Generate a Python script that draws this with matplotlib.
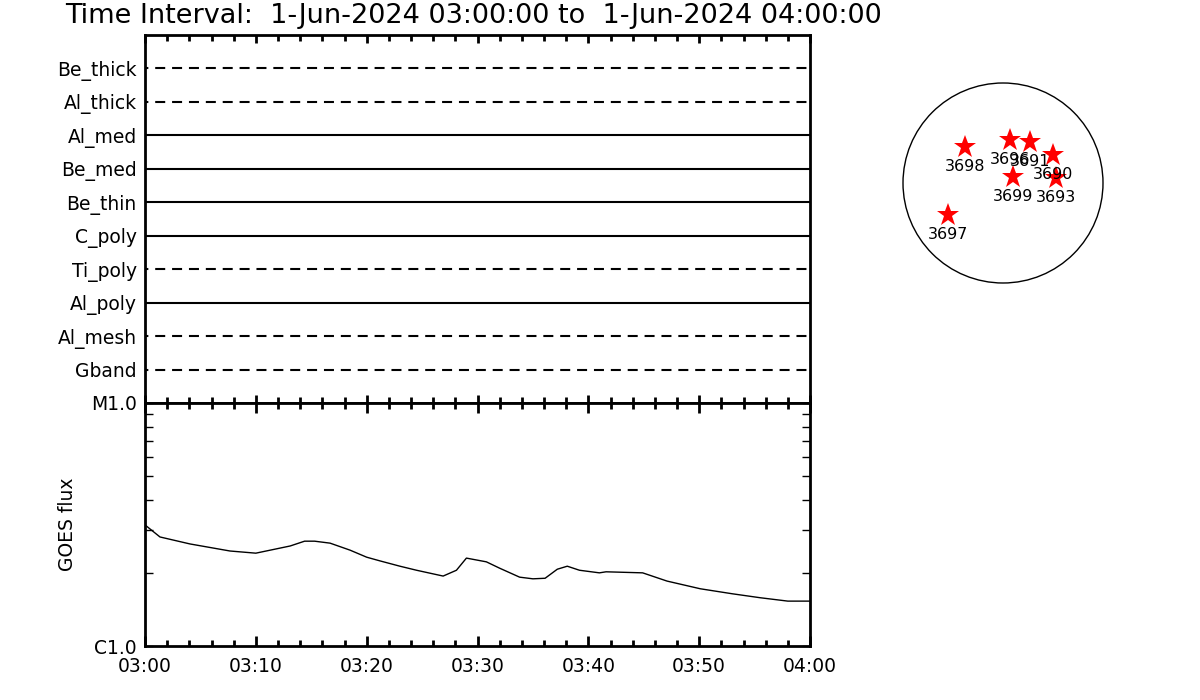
import numpy as np
import matplotlib.pyplot as plt
from matplotlib.patches import Circle
from matplotlib.ticker import FixedLocator, LogLocator, NullFormatter

# Filter channels (top to bottom) and whether the row is dashed
channels = ["Be_thick", "Al_thick", "Al_med", "Be_med", "Be_thin",
            "C_poly", "Ti_poly", "Al_poly", "Al_mesh", "Gband"]
dashed = [True, True, False, False, False, False, True, False, True, True]

# GOES flux (W/m^2), time in minutes after 03:00
goes_min = [0, 1.35, 4.06, 7.67, 10.0, 13.1, 14.4, 15.3, 16.7, 18.5, 20.0,
            21.2, 23.0, 24.5, 26.9, 28.1, 29.0, 30.8, 32.0, 33.8, 35.0,
            36.1, 37.2, 38.1, 39.2, 41.0, 41.6, 44.9, 47.1, 50.1, 53.0,
            55.5, 58.0, 60.0]
goes_flux = [3.15, 2.81, 2.63, 2.46, 2.41, 2.58, 2.70, 2.70, 2.65, 2.48, 2.32,
             2.24, 2.13, 2.05, 1.94, 2.05, 2.30, 2.22, 2.09, 1.92, 1.89,
             1.90, 2.07, 2.13, 2.05, 2.00, 2.02, 2.00, 1.85, 1.72, 1.64,
             1.58, 1.53, 1.53]
goes_flux = [f * 1e-6 for f in goes_flux]

time_ticks = [0, 10, 20, 30, 40, 50, 60]
time_labels = ["03:00", "03:10", "03:20", "03:30", "03:40", "03:50", "04:00"]

# Active regions on the disk (arcsec)
ar_num = ["3698", "3696", "3691", "3690", "3693", "3699", "3697"]
ar_x = [-365, 67, 259, 480, 509, 96, -528]
ar_y = [346, 413, 394, 269, 48, 58, -307]

plt.rcParams['font.family'] = 'DejaVu Sans'
fig = plt.figure(figsize=(12, 7), dpi=100)

# ---- top panel: channel rows
ax1 = fig.add_axes([145/1200, 1-403/700, 665/1200, 368/700])
n = len(channels)
for i, (name, d) in enumerate(zip(channels, dashed)):
    yv = n - i
    if d:
        ax1.plot([0, 60], [yv, yv], color='k', lw=1.5,
                 linestyle=(3.2, (4.8, 3.3)))
    else:
        ax1.plot([0, 60], [yv, yv], color='k', lw=1.5)
ax1.set_xlim(0, 60)
ax1.set_ylim(0, n + 1)
ax1.set_yticks([n - i for i in range(n)])
ax1.set_yticklabels(channels, fontsize=13.5)
ax1.tick_params(axis='y', length=0, pad=6)
ax1.xaxis.set_major_locator(FixedLocator(time_ticks))
ax1.xaxis.set_minor_locator(FixedLocator(np.arange(0, 61, 2)))
ax1.tick_params(axis='x', which='both', direction='in', top=True, bottom=True,
                labelbottom=False, width=2)
ax1.tick_params(axis='x', which='major', length=6)
ax1.tick_params(axis='x', which='minor', length=4)
for s in ax1.spines.values():
    s.set_linewidth(2)

# ---- bottom panel: GOES flux
ax2 = fig.add_axes([145/1200, 1-646/700, 665/1200, 243/700])
ax2.plot(goes_min, goes_flux, color='k', lw=1)
ax2.set_yscale('log')
ax2.set_xlim(0, 60)
ax2.set_ylim(1e-6, 1e-5)
ax2.yaxis.set_major_locator(FixedLocator([1e-6, 1e-5]))
ax2.set_yticklabels(["C1.0", "M1.0"], fontsize=13.5)
ax2.yaxis.set_minor_locator(LogLocator(base=10, subs=np.arange(2, 10)))
ax2.yaxis.set_minor_formatter(NullFormatter())
ax2.tick_params(axis='y', which='both', direction='in', left=True, right=True,
                width=1, length=6, pad=6)
ax2.set_ylabel("GOES flux", fontsize=13.5, labelpad=10)
ax2.xaxis.set_major_locator(FixedLocator(time_ticks))
ax2.set_xticklabels(time_labels, fontsize=13.5)
ax2.xaxis.set_minor_locator(FixedLocator(np.arange(0, 61, 2)))
ax2.tick_params(axis='x', which='both', direction='in', top=True, bottom=True,
                width=2, pad=8)
ax2.tick_params(axis='x', which='major', length=7)
ax2.tick_params(axis='x', which='minor', length=4)
for s in ax2.spines.values():
    s.set_linewidth(2)

fig.text(65/1200, 1-16/700, "Time Interval:  1-Jun-2024 03:00:00 to  1-Jun-2024 04:00:00",
         fontsize=19.5, ha='left', va='center')

# ---- solar disk with active regions
ax3 = fig.add_axes([(1003-110)/1200, 1-(183+110)/700, 220/1200, 220/700])
ax3.add_patch(Circle((0, 0), 960, fill=False, edgecolor='k', lw=1))
ax3.plot(ar_x, ar_y, linestyle='none', marker='*', color='red',
         markersize=17, markeredgewidth=0)
for num, x, y in zip(ar_num, ar_x, ar_y):
    ax3.text(x, y - 120, num, fontsize=11.5, ha='center', va='top')
ax3.set_xlim(-1056, 1056)
ax3.set_ylim(-1056, 1056)
ax3.set_aspect('equal')
ax3.axis('off')

fig.savefig("out.png", dpi=100)
